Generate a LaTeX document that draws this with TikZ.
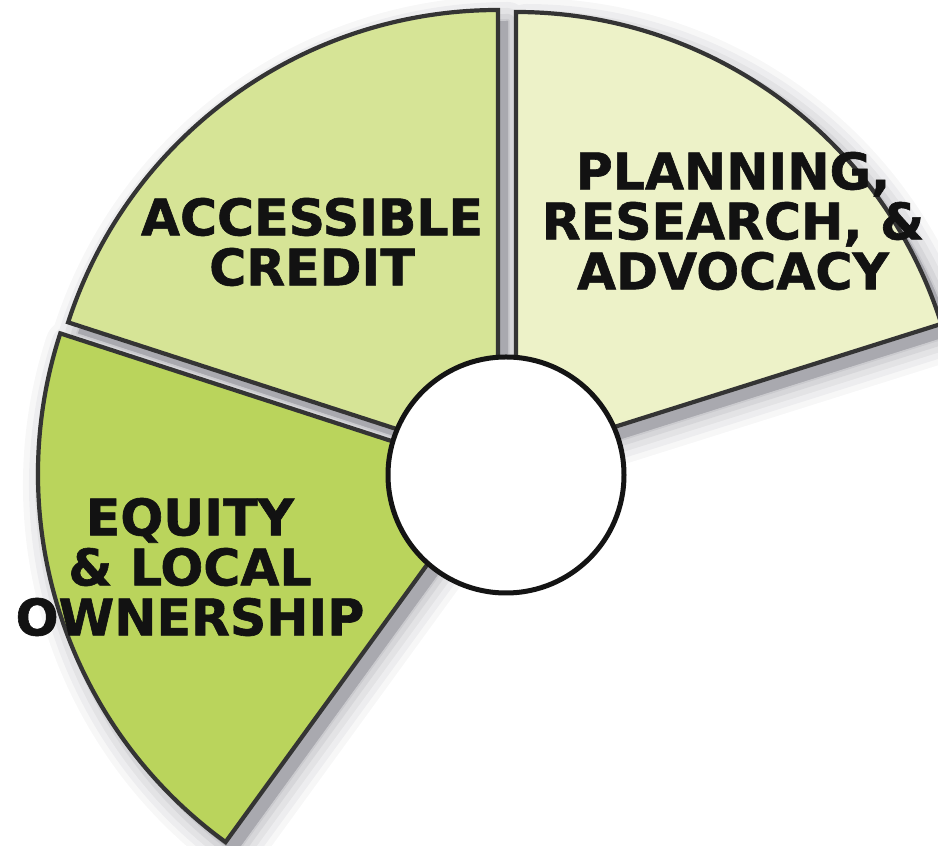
\documentclass[tikz,border=0pt]{standalone}
\usepackage{fontspec}
\setmainfont[BoldFeatures={FakeBold=1.2}]{DejaVu Sans}
\definecolor{creditc}{RGB}{214,228,150}
\definecolor{planc}{RGB}{237,242,200}
\definecolor{equityc}{RGB}{186,212,92}
\definecolor{edgec}{RGB}{52,52,52}
\definecolor{shadowc}{RGB}{140,140,148}
\tikzset{
  sector/.style={draw=edgec, line width=4.2pt, line join=miter},
  blurlayer/.style={draw=shadowc, fill=shadowc, line join=round},
  bigtext/.style={font=\bfseries\fontsize{50.5}{50}\selectfont, align=center, text=black!93, inner sep=0pt},
}
\def\secUL{(498,384) -- ++(90:452) arc[start angle=90,end angle=162,radius=452] -- cycle}
\def\secR{(516,388) -- ++(17.5:446) arc[start angle=17.5,end angle=90,radius=446] -- cycle}
\def\secLL{(493,372) -- ++(162:455) arc[start angle=162,end angle=234,radius=455] -- cycle}
\begin{document}
\begin{tikzpicture}[x=1pt,y=1pt]
\useasboundingbox (0,0) rectangle (938,846);
\begin{scope}
\clip (0,0) rectangle (938,846);
% soft shadow
\begin{scope}[shift={(10,-11)}]
  \foreach \w/\o in {50/0.07, 38/0.09, 26/0.11, 14/0.14, 4/0.16}{
    \path[blurlayer, line width=\w pt, opacity=\o] \secUL \secR \secLL;
  }
  \fill[shadowc!75!white] \secUL \secR \secLL;
\end{scope}
% sectors
\path[sector, fill=creditc] \secUL;
\path[sector, fill=planc] \secR;
\path[sector, fill=equityc] \secLL;
\end{scope}
% hub
\node[circle, draw=black!92, fill=white, line width=5pt, minimum size=236pt, inner sep=0pt] (hub) at (506,371) {};
% labels
\node[bigtext] (credit) at (312,604) {ACCESSIBLE\\CREDIT};
\node[bigtext] (planning) at (733,625) {PLANNING,\\RESEARCH, \&\\ADVOCACY};
\node[bigtext] (equity) at (190,279) {EQUITY\\\& LOCAL\\OWNERSHIP};
\end{tikzpicture}
\end{document}
